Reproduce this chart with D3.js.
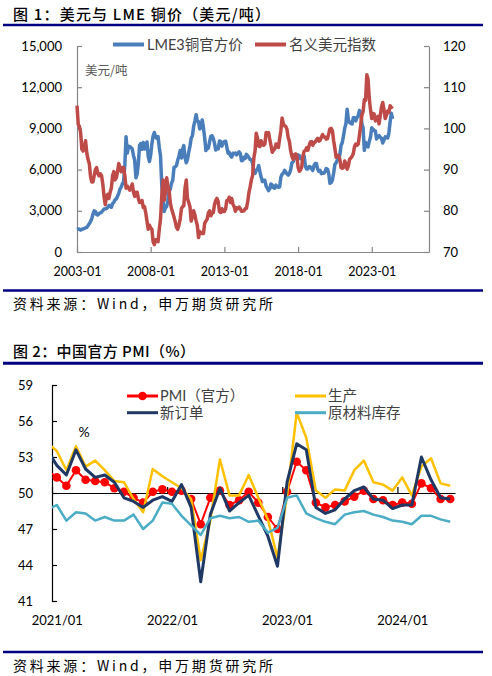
<!DOCTYPE html>
<html><head><meta charset="utf-8">
<script src="https://cdn.jsdelivr.net/npm/d3@7"></script>
<style>
html,body{margin:0;padding:0;background:#fff;}
svg{display:block;}
</style></head><body>
<svg id="c" width="492" height="676"></svg>
<script>
// ---------------- Chart 1 data: monthly, starting 2003-01 ----------------
const copperStartYear = 2003;
const copperPrice = [
 1650,1680,1660,1590,1650,1690,1710,1760,1790,1920,2060,2200,
 2420,2760,3000,2950,2730,2690,2810,2850,2900,3020,3130,3140,
 3170,3250,3380,3390,3250,3520,3620,3800,3860,4060,4270,4580,
 4730,4980,5100,6380,8400,7200,7700,7690,7600,7500,7030,6680,
 5400,5700,6450,7770,7900,7480,7980,7500,7650,8010,6960,6590,
 7060,7890,8440,8700,8380,8270,8410,7630,6990,4930,3720,2950,
 3220,3310,3750,4400,4570,5010,5220,6160,6200,6290,6680,6980,
 7390,6850,7460,7750,6870,6500,6730,7280,7710,8290,8470,9150,
 9550,10000,9530,9490,8960,9050,9620,9040,8300,7390,7580,7560,
 8040,8440,8460,8270,7930,7420,7580,7510,8090,8060,7710,7970,
 8050,8070,7650,7200,7250,7000,6910,7190,7160,7200,7070,7210,
 7290,7150,6650,6670,6890,6820,7110,7000,6870,6740,6710,6450,
 5830,5730,5940,6040,6300,5830,5460,5130,5220,5220,4800,4640,
 4470,4600,4950,4870,4690,4640,4870,4750,4720,4730,5450,5660,
 5740,5940,5820,5690,5600,5720,5990,6480,6580,6810,6830,6830,
 7070,7010,6800,6840,6830,7000,6250,6050,6050,6220,6200,6080,
 5940,6300,6440,6440,6030,5880,5940,5710,5760,5740,5860,6080,
 6030,5690,5000,5060,5240,5750,6370,6500,6700,6710,7070,7760,
 7970,8470,9000,9340,10400,9610,9430,9360,9320,9780,9770,9550,
 9780,9940,10300,10180,9360,9030,7400,7980,7750,7650,8050,8370,
 9040,8940,8840,8810,8230,8390,8470,8350,8270,7940,8170,8390,
 8340,8310,8680,9480,10100,9700
];
const dollarIndex = [
 105.5,101.0,100.5,99.0,95.0,94.5,95.5,97.0,94.0,92.5,91.5,88.5,
 87.0,87.0,88.5,90.0,90.5,89.0,88.5,89.0,88.5,86.5,83.5,81.5,
 83.5,84.0,83.0,84.5,85.5,88.5,89.5,87.5,88.0,89.5,91.5,90.5,
 89.5,90.5,90.5,88.5,85.5,86.0,85.5,85.0,85.5,86.5,84.5,83.5,
 84.5,84.5,83.0,82.0,82.0,82.5,80.8,81.0,79.5,77.5,75.5,76.5,
 75.8,75.5,72.5,71.8,73.0,73.0,72.5,75.5,78.0,83.5,87.5,82.5,
 84.5,88.0,86.0,85.0,82.0,80.5,79.5,78.5,77.3,76.0,75.5,76.5,
 78.0,80.5,81.0,81.2,85.5,87.5,83.0,82.0,81.0,77.5,78.5,80.0,
 79.0,77.5,76.5,73.5,75.0,74.7,74.5,74.5,77.0,77.5,78.0,79.5,
 80.0,78.8,79.5,79.5,81.5,82.5,83.0,82.2,79.8,79.6,80.5,79.8,
 79.8,80.5,82.5,82.5,83.3,82.0,83.0,81.6,81.0,79.9,80.7,80.5,
 80.9,80.5,79.9,79.9,80.0,80.5,80.6,82.2,84.4,85.8,87.5,88.6,
 92.8,94.6,98.8,97.7,95.7,95.6,97.0,96.1,95.9,96.2,99.0,98.6,
 99.0,97.2,95.9,94.2,94.7,95.0,96.2,95.5,95.4,97.5,99.5,102.5,
 101.2,100.6,100.5,99.8,97.8,96.8,94.6,93.2,92.5,93.6,93.8,93.3,
 90.6,89.6,89.9,90.6,93.3,94.5,94.6,95.3,94.7,95.8,96.7,96.8,
 95.9,96.5,96.7,97.2,97.6,96.9,97.1,97.9,98.5,97.9,97.9,97.4,
 97.5,98.8,99.9,100.0,99.4,97.0,95.2,93.0,93.4,93.4,92.5,90.5,
 90.3,90.5,92.1,91.4,90.1,90.9,92.5,92.8,93.2,93.9,95.6,96.2,
 95.9,96.2,98.3,100.6,103.2,104.1,107.0,106.8,113.0,112.0,107.3,104.5,
 102.4,103.6,103.5,101.8,102.6,102.9,101.1,103.2,105.3,106.3,104.5,102.4,
 103.2,104.2,103.9,105.5,105.1,105.4
];
const xTickLabels1 = ["2003-01","2008-01","2013-01","2018-01","2023-01"];
const yTicksLeft1 = [0,3000,6000,9000,12000,15000];
const yTicksRight1 = [70,80,90,100,110,120];
const series1Names = ["LME3铜官方价","名义美元指数"];

// ---------------- Chart 2 data: monthly ----------------
const pmiCategories = [
 "2020/12",
 "2021/01","2021/02","2021/03","2021/04","2021/05","2021/06","2021/07","2021/08","2021/09","2021/10","2021/11","2021/12",
 "2022/01","2022/02","2022/03","2022/04","2022/05","2022/06","2022/07","2022/08","2022/09","2022/10","2022/11","2022/12",
 "2023/01","2023/02","2023/03","2023/04","2023/05","2023/06","2023/07","2023/08","2023/09","2023/10","2023/11","2023/12",
 "2024/01","2024/02","2024/03","2024/04","2024/05","2024/06"
];
const pmiOfficial = [51.9,
 51.3,50.6,51.9,51.1,51.0,50.9,50.4,50.1,49.6,49.2,50.1,50.3,
 50.1,50.2,49.5,47.4,49.6,50.2,49.0,49.4,50.1,49.2,48.0,47.0,
 50.1,52.6,51.9,49.2,48.8,49.0,49.3,49.7,50.2,49.5,49.4,49.0,
 49.2,49.1,50.8,50.4,49.5,49.5];
const pmiProduction = [54.2,
 53.5,51.9,53.9,52.2,52.7,51.9,51.0,50.9,49.5,48.4,52.0,51.4,
 50.9,50.4,49.5,44.4,47.7,52.8,49.8,49.8,51.5,49.6,47.8,44.6,
 49.8,56.7,54.6,50.2,49.6,50.3,50.2,51.9,52.7,50.9,50.7,50.2,
 51.3,49.8,52.2,52.9,50.8,50.6];
const pmiNewOrders = [53.6,
 52.3,51.5,53.6,52.0,51.3,51.5,50.9,49.6,49.3,48.8,49.4,49.7,
 49.3,50.7,48.8,42.6,48.2,50.4,48.5,49.2,49.8,48.1,46.4,43.9,
 50.9,54.1,53.6,48.8,48.3,48.6,49.5,50.2,50.5,49.5,49.4,48.7,
 49.0,49.0,53.0,51.1,49.6,49.5];
const pmiRawInventory = [48.6,
 49.0,47.7,48.4,48.3,47.7,48.0,47.7,47.7,48.2,47.0,47.7,49.2,
 49.1,48.1,47.3,46.5,47.9,48.1,47.9,48.0,47.6,47.7,46.7,47.1,
 49.6,49.8,48.3,47.9,47.6,47.4,48.2,48.4,48.5,48.2,48.0,47.7,
 47.6,47.4,48.1,48.1,47.8,47.6];
const xTickLabels2 = ["2021/01","2022/01","2023/01","2024/01"];
const yTicks2 = [41,44,47,50,53,56,59];
const series2Names = ["PMI（官方）","生产","新订单","原材料库存"];

// ---------------- drawing ----------------
const svg = d3.select("#c");
const F_NUM = "Lato, 'Noto Sans CJK SC', sans-serif";
const F_CJK = "'Noto Sans CJK SC', sans-serif";
const NAVY = "#000080";

function rule(y, w) {
  svg.append("line").attr("x1", 3).attr("x2", 483).attr("y1", y).attr("y2", y)
    .attr("stroke", NAVY).attr("stroke-width", w);
}
function caption(txt, x, y, size, len, weight) {
  svg.append("text").attr("x", x).attr("y", y).text(txt)
    .attr("font-family", F_CJK).attr("font-size", size).attr("font-weight", weight)
    .attr("fill", "#000").attr("textLength", len).attr("lengthAdjust", "spacing");
}

// Chart 1 titles/rules
caption("图 1：美元与 LME 铜价（美元/吨）", 13, 19.5, 15, 257, 500);
rule(25, 2.5);
rule(290.5, 2.5);
caption("资料来源：Wind，申万期货研究所", 13, 309, 14, 260, 400);

// Chart 2 titles/rules
caption("图 2：中国官方 PMI（%）", 13, 357, 15, 182, 500);
rule(363.3, 3);
rule(652, 2.5);
caption("资料来源：Wind，申万期货研究所", 13, 671, 14, 260, 400);

// ---------- Chart 1 ----------
const dates1 = copperPrice.map((_, i) => new Date(copperStartYear, i, 1));
const x1 = d3.scaleTime().domain([new Date(2003, 0, 1), new Date(2026, 10, 20)]).range([77, 429]);
const yL = d3.scaleLinear().domain([0, 15000]).range([252, 46]);
const yR = d3.scaleLinear().domain([70, 120]).range([252, 46]);
const parseM = d3.timeParse("%Y-%m");
const GREY = "#868686";

function styleAxis(g, color, font, size) {
  g.attr("font-family", font).attr("font-size", size);
  g.select(".domain").attr("stroke", color).attr("stroke-width", 1.2);
  g.selectAll(".tick line").attr("stroke", color).attr("stroke-width", 1.2);
  g.selectAll(".tick text").attr("fill", "#000");
}

const gL = svg.append("g").attr("transform", "translate(77,0)")
  .call(d3.axisLeft(yL).tickValues(yTicksLeft1).tickSize(-5).tickSizeOuter(0).tickPadding(15).tickFormat(d3.format(",")));
styleAxis(gL, GREY, F_NUM, 13);
const gR = svg.append("g").attr("transform", "translate(429,0)")
  .call(d3.axisRight(yR).tickValues(yTicksRight1).tickSize(-5).tickSizeOuter(0).tickPadding(14));
styleAxis(gR, GREY, F_NUM, 13);
const gB = svg.append("g").attr("transform", "translate(0,252)")
  .call(d3.axisBottom(x1).tickValues(xTickLabels1.map(parseM)).tickSize(-5).tickSizeOuter(0).tickPadding(15).tickFormat(d3.timeFormat("%Y-%m")));
styleAxis(gB, GREY, F_NUM, 12.5);

svg.append("path").datum(copperPrice)
  .attr("d", d3.line().x((d, i) => x1(dates1[i])).y(d => yL(d)))
  .attr("fill", "none").attr("stroke", "#4a7ebb").attr("stroke-width", 3.5).attr("stroke-linejoin", "round");
svg.append("path").datum(dollarIndex)
  .attr("d", d3.line().x((d, i) => x1(dates1[i])).y(d => yR(d)))
  .attr("fill", "none").attr("stroke", "#be4b48").attr("stroke-width", 3.5).attr("stroke-linejoin", "round");

svg.append("text").attr("x", 85).attr("y", 75).text("美元/吨")
  .attr("font-family", F_CJK).attr("font-size", 12.5).attr("fill", "#595959");

// legend 1
const leg1 = [[113, "#4a7ebb"], [255, "#be4b48"]];
leg1.forEach((l, i) => {
  svg.append("line").attr("x1", l[0]).attr("x2", l[0] + 31).attr("y1", 44.5).attr("y2", 44.5)
    .attr("stroke", l[1]).attr("stroke-width", 4);
  svg.append("text").attr("x", l[0] + 34).attr("y", 49.5).text(series1Names[i])
    .attr("font-family", F_NUM).attr("font-size", 14.5).attr("fill", "#404040");
});

// ---------- Chart 2 ----------
const i0 = pmiCategories.indexOf("2021/01");
const x2 = d3.scaleLinear().domain([i0 - 0.5, pmiCategories.length - 0.5]).range([52, 455]);
const y2 = d3.scaleLinear().domain([41, 59]).range([601, 385]);

svg.append("defs").append("clipPath").attr("id", "clip2")
  .append("rect").attr("x", 52).attr("y", 370).attr("width", 405).attr("height", 240);

const gY2 = svg.append("g").attr("transform", "translate(52,0)")
  .call(d3.axisLeft(y2).tickValues(yTicks2).tickSize(-5).tickSizeOuter(0).tickPadding(19));
styleAxis(gY2, "#000", F_NUM, 13);

// x axis crossing at 50 (ticks between categories)
const gX2 = svg.append("g").attr("transform", `translate(0,${y2(50)})`)
  .call(d3.axisBottom(x2).tickValues(xTickLabels2.map(l => pmiCategories.indexOf(l) - 0.5)).tickSize(-6).tickSizeOuter(0).tickFormat(""));
styleAxis(gX2, "#000", F_NUM, 13);
// labels below plot
const gXL = svg.append("g").attr("transform", "translate(0,601)")
  .call(d3.axisBottom(x2).tickValues(xTickLabels2.map(l => pmiCategories.indexOf(l))).tickSize(0).tickPadding(15).tickFormat(d => pmiCategories[d]));
gXL.attr("font-family", F_NUM).attr("font-size", 13);
gXL.select(".domain").remove();
gXL.selectAll(".tick text").attr("fill", "#000");

const plot2 = svg.append("g").attr("clip-path", "url(#clip2)");
const line2 = d3.line().x((d, i) => x2(i)).y(d => y2(d));
const s2 = [
  [pmiOfficial, "#ff0000", 2],
  [pmiProduction, "#ffc000", 2.5],
  [pmiNewOrders, "#1f3864", 3],
  [pmiRawInventory, "#4bacc6", 2.5]
];
s2.forEach((s, k) => {
  plot2.append("path").datum(s[0]).attr("d", line2)
    .attr("fill", "none").attr("stroke", s[1]).attr("stroke-width", s[2]).attr("stroke-linejoin", "round");
  if (k === 0) {
    plot2.selectAll("circle.pmi").data(s[0]).enter().append("circle").attr("class", "pmi")
      .attr("cx", (d, i) => x2(i)).attr("cy", d => y2(d)).attr("r", 4.3).attr("fill", "#ff0000");
  }
});

// legend 2
const leg2 = [[127, 396, 0], [295, 396, 1], [127, 412.7, 2], [295, 412.7, 3]];
leg2.forEach(l => {
  const s = s2[l[2]];
  svg.append("line").attr("x1", l[0]).attr("x2", l[0] + 31).attr("y1", l[1]).attr("y2", l[1])
    .attr("stroke", s[1]).attr("stroke-width", 3);
  if (l[2] === 0) svg.append("circle").attr("cx", l[0] + 15.5).attr("cy", l[1]).attr("r", 4.3).attr("fill", s[1]);
  svg.append("text").attr("x", l[0] + 33).attr("y", l[1] + 5).text(series2Names[l[2]])
    .attr("font-family", F_NUM).attr("font-size", 14.5).attr("fill", "#404040");
});

svg.append("text").attr("x", 84).attr("y", 437).attr("text-anchor", "middle").text("%")
  .attr("font-family", F_NUM).attr("font-size", 14).attr("fill", "#000");
</script></body></html>
